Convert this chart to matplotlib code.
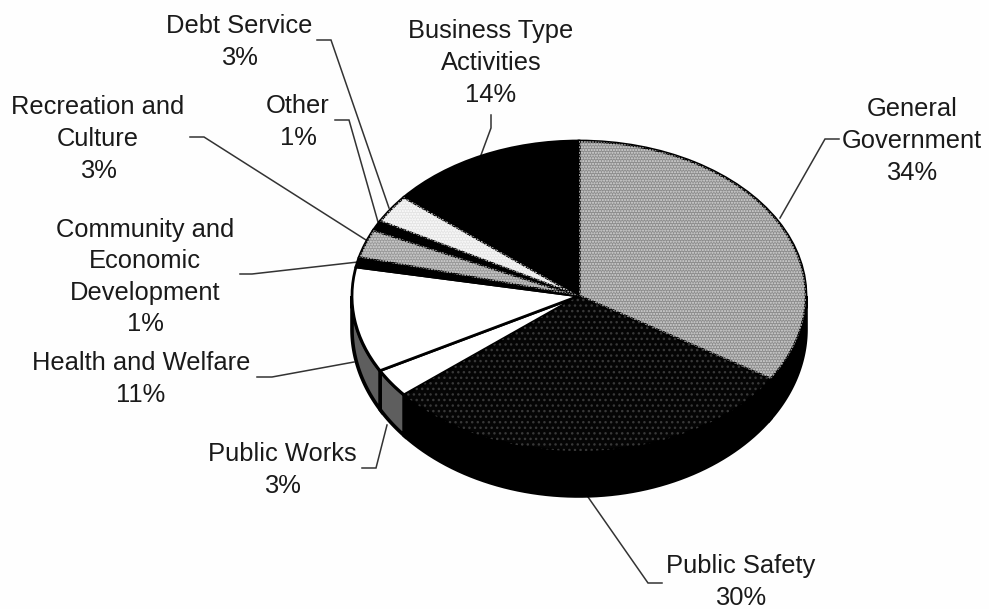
"""
3D style budget pie, scanned grey look
"""

### Import modules
import numpy as np
import matplotlib
matplotlib.use('Agg')
import matplotlib.pyplot as plt
from matplotlib.transforms import Affine2D

### Data, clockwise from 12 o'clock
names = ['General\nGovernment', 'Public Safety', 'Public Works', 'Health and Welfare',
         'Community and\nEconomic\nDevelopment', 'Recreation and\nCulture', 'Other',
         'Debt Service', 'Business Type\nActivities']
shares = [34, 30, 3, 11, 1, 3, 1, 3, 14]

### Styles for the same slices
topcolors = ['#8c8c8c', '#050505', 'white', 'white', 'black', '#989898', 'black', '#e4e4e4', 'black']
sidecolors = ['black', 'black', '#5e5e5e', '#5e5e5e', 'black', 'black', 'black', 'black', 'black']
hatches = ['......', '...', '', '', '', '......', '', '......', '']
dotcolors = ['#d8d8d8', '#383838', 'none', 'none', 'none', '#d8d8d8', 'none', 'white', 'none']

labelx = [912, 741, 282, 141, 145, 98, 298, 239, 491]
labely = [141, 582, 470, 379, 277, 139, 122, 42, 63]
leaders = [[(780, 218), (825, 139), (839, 139)],
           [(588, 497), (648, 583), (662, 583)],
           [(387, 425), (376, 468), (362, 468)],
           [(354, 362), (272, 377), (257, 377)],
           [(358, 262), (252, 274), (240, 274)],
           [(366, 240), (204, 137), (190, 137)],
           [(378, 222), (349, 120), (335, 120)],
           [(389, 208), (331, 40), (317, 40)],
           [(481, 155), (491, 128), (491, 115)]]

### Geometry of the tilted pie in pixels
cx, cy = 579, 296
rx, ry = 227, 155
lowy, lowry = 329, 167

plt.rcParams['font.family'] = ['Liberation Sans', 'DejaVu Sans']
fig = plt.figure(figsize=(9.89, 6.09), dpi=100, facecolor='#fefefe')
ax = fig.add_axes([0, 0, 1, 1])

squash = Affine2D().scale(rx, ry).translate(cx, cy) + ax.transData

wedges, _ = ax.pie(shares, colors=topcolors, startangle=-90, counterclock=True,
                   wedgeprops=dict(edgecolor='black', linewidth=2, zorder=3))
for w in wedges:
    w.set_transform(squash)

### Side wall of the pie
for w, col in zip(wedges, sidecolors):
    t1, t2 = max(w.theta1, 0), min(w.theta2, 180)
    if t2 <= t1:
        continue
    th = np.radians(np.linspace(t1, t2, 60))
    xs = cx + rx*np.cos(th)
    top = cy + ry*np.sin(th)
    bot = lowy + lowry*np.sin(th)
    ax.fill(np.r_[xs, xs[::-1]], np.r_[top, bot[::-1]], facecolor=col,
            edgecolor='black', linewidth=2.6, zorder=2)

### Dither on top of the slices
dots, _ = ax.pie(shares, colors=['none']*len(shares), startangle=-90, counterclock=True,
                 hatch=hatches, wedgeprops=dict(linewidth=0, zorder=4))
for w, col in zip(dots, dotcolors):
    w.set_transform(squash)
    w.set_edgecolor(col)

ax.set_aspect('auto')
ax.set_xlim(0, 989)
ax.set_ylim(609, 0)
ax.axis('off')

### Labels and leader lines
for name, share, x, y, line in zip(names, shares, labelx, labely, leaders):
    ax.plot(*zip(*line), color='#333333', linewidth=1.1, zorder=1, solid_joinstyle='miter')
    ax.text(x, y, '%s\n%d%%' % (name, share), ha='center', va='center', fontsize=18.4,
            color='#1a1a1a', linespacing=1.4, zorder=6)

plt.savefig('out.png', dpi=100, facecolor=fig.get_facecolor())
